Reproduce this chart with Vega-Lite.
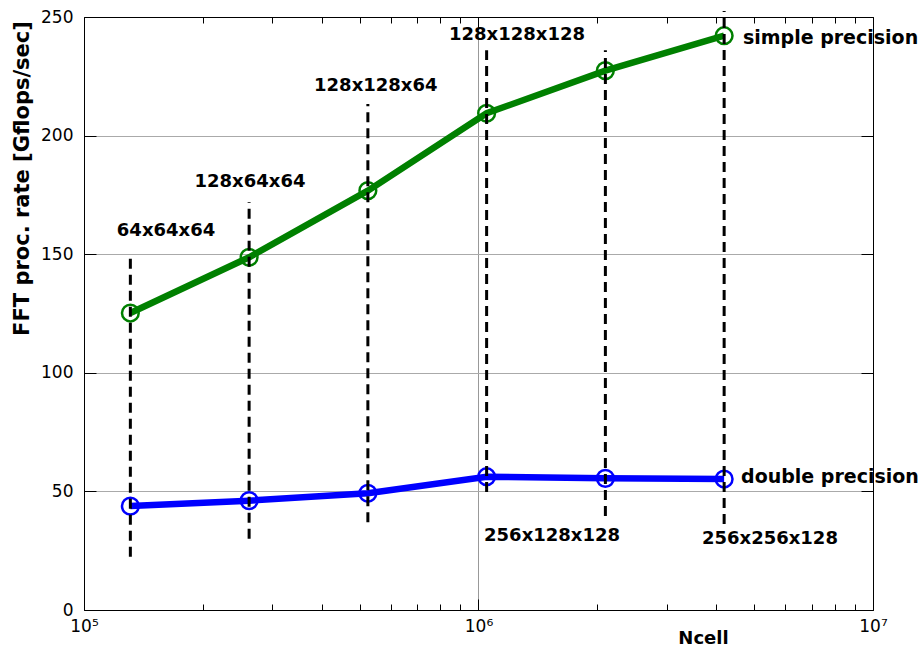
{
  "$schema": "https://vega.github.io/schema/vega-lite/v6.json",
  "width": 789,
  "height": 593,
  "autosize": {"type": "none"},
  "padding": {"left": 84, "top": 17, "right": 47, "bottom": 39},
  "background": "white",
  "config": {
    "view": {"stroke": null},
    "axis": {
      "domainColor": "#000",
      "domainWidth": 1,
      "tickColor": "#000",
      "tickWidth": 1,
      "labelColor": "#000",
      "labelFont": "DejaVu Sans",
      "labelFontSize": 17,
      "titleFont": "DejaVu Sans",
      "titleColor": "#000"
    }
  },
  "datasets": {
    "series": [
      {"series": "simple precision", "Ncell": 131072, "rate": 125.2},
      {"series": "simple precision", "Ncell": 262144, "rate": 148.7},
      {"series": "simple precision", "Ncell": 524288, "rate": 176.8},
      {"series": "simple precision", "Ncell": 1048576, "rate": 209.4},
      {"series": "simple precision", "Ncell": 2097152, "rate": 227.4},
      {"series": "simple precision", "Ncell": 4194304, "rate": 242.1},
      {"series": "double precision", "Ncell": 131072, "rate": 43.8},
      {"series": "double precision", "Ncell": 262144, "rate": 46.1},
      {"series": "double precision", "Ncell": 524288, "rate": 49.2},
      {"series": "double precision", "Ncell": 1048576, "rate": 56.2},
      {"series": "double precision", "Ncell": 2097152, "rate": 55.5},
      {"series": "double precision", "Ncell": 4194304, "rate": 55.2}
    ],
    "dashes": [
      {"Ncell": 131072, "lo": 22.5, "hi": 148.4},
      {"Ncell": 262144, "lo": 30.0, "hi": 172.0},
      {"Ncell": 524288, "lo": 37.0, "hi": 213.3},
      {"Ncell": 1048576, "lo": 49.7, "hi": 236.0},
      {"Ncell": 2097152, "lo": 39.6, "hi": 236.0},
      {"Ncell": 4194304, "lo": 36.3, "hi": 252.5}
    ],
    "sizes": [
      {"label": "64x64x64", "x": 161400, "y": 159.7},
      {"label": "128x64x64", "x": 263500, "y": 180.5},
      {"label": "128x128x64", "x": 549000, "y": 220.8},
      {"label": "128x128x128", "x": 1252000, "y": 242.5},
      {"label": "256x128x128", "x": 1536000, "y": 31.0},
      {"label": "256x256x128", "x": 5480000, "y": 30.0}
    ],
    "names": [
      {"label": "simple precision", "x": 4680000, "y": 241.3},
      {"label": "double precision", "x": 4630000, "y": 55.9}
    ]
  },
  "layer": [
    {
      "data": {"name": "series"},
      "mark": {"type": "line", "strokeWidth": 6.5},
      "encoding": {
        "x": {
          "field": "Ncell",
          "type": "quantitative",
          "scale": {"type": "log", "domain": [100000, 10000000], "nice": false},
          "axis": {
            "orient": "bottom",
            "values": [100000, 200000, 300000, 400000, 500000, 600000, 700000, 800000, 900000, 1000000, 2000000, 3000000, 4000000, 5000000, 6000000, 7000000, 8000000, 9000000, 10000000],
            "labelExpr": "datum.value == 100000 ? '10⁵' : datum.value == 1000000 ? '10⁶' : datum.value == 10000000 ? '10⁷' : ''",
            "labelOverlap": false,
            "labelFlush": false,
            "tickSize": {"condition": {"test": "datum.value == 100000 || datum.value == 1000000 || datum.value == 10000000", "value": -11}, "value": -6},
            "labelPadding": 19,
            "grid": true,
            "gridColor": "#999",
            "gridOpacity": {"condition": {"test": "datum.value == 1000000", "value": 1}, "value": 0},
            "title": "Ncell",
            "titleFontWeight": "bold",
            "titleFontSize": 18,
            "titleX": 619,
            "titleY": 28,
            "titleBaseline": "middle",
            "titleAlign": "center"
          }
        },
        "y": {
          "field": "rate",
          "type": "quantitative",
          "scale": {"domain": [0, 250], "nice": false},
          "axis": {
            "orient": "left",
            "values": [0, 50, 100, 150, 200, 250],
            "tickSize": -12,
            "labelPadding": 23,
            "grid": true,
            "gridColor": "#aaa",
            "title": "FFT proc. rate [Gflops/sec]",
            "titleFontWeight": "bold",
            "titleFontSize": 21,
            "titleX": -62,
            "titleY": 161,
            "titleAngle": -90,
            "titleBaseline": "middle",
            "titleAlign": "center"
          }
        },
        "color": {
          "field": "series",
          "type": "nominal",
          "scale": {"domain": ["simple precision", "double precision"], "range": ["#008000", "#0000ff"]},
          "legend": null
        }
      }
    },
    {
      "data": {"name": "series"},
      "mark": {"type": "point", "shape": "circle", "filled": false, "size": 280, "strokeWidth": 2.5, "opacity": 1},
      "encoding": {
        "x": {"field": "Ncell", "type": "quantitative", "axis": null},
        "y": {"field": "rate", "type": "quantitative", "axis": null},
        "color": {"field": "series", "type": "nominal", "legend": null}
      }
    },
    {
      "data": {"name": "dashes"},
      "mark": {"type": "rule", "color": "#000", "strokeWidth": 3, "strokeDash": [10, 6]},
      "encoding": {
        "x": {"field": "Ncell", "type": "quantitative", "axis": null},
        "y": {"field": "lo", "type": "quantitative", "axis": null},
        "y2": {"field": "hi"}
      }
    },
    {
      "data": {"name": "sizes"},
      "mark": {"type": "text", "font": "DejaVu Sans", "fontWeight": "bold", "fontSize": 18, "color": "#000", "align": "center", "baseline": "middle"},
      "encoding": {
        "x": {"field": "x", "type": "quantitative", "axis": null},
        "y": {"field": "y", "type": "quantitative", "axis": null},
        "text": {"field": "label"}
      }
    },
    {
      "data": {"name": "names"},
      "mark": {"type": "text", "font": "DejaVu Sans", "fontWeight": "bold", "fontSize": 19, "color": "#000", "align": "left", "baseline": "middle"},
      "encoding": {
        "x": {"field": "x", "type": "quantitative", "axis": null},
        "y": {"field": "y", "type": "quantitative", "axis": null},
        "text": {"field": "label"}
      }
    },
    {
      "data": {"name": "series"},
      "mark": {"type": "point", "opacity": 0},
      "encoding": {
        "x": {
          "field": "Ncell",
          "type": "quantitative",
          "axis": {
            "orient": "top",
            "values": [100000, 200000, 300000, 400000, 500000, 600000, 700000, 800000, 900000, 1000000, 2000000, 3000000, 4000000, 5000000, 6000000, 7000000, 8000000, 9000000, 10000000],
            "labels": false,
            "tickSize": {"condition": {"test": "datum.value == 100000 || datum.value == 1000000 || datum.value == 10000000", "value": -11}, "value": -6},
            "grid": false,
            "title": null
          }
        },
        "y": {
          "field": "rate",
          "type": "quantitative",
          "axis": {
            "orient": "right",
            "values": [0, 50, 100, 150, 200, 250],
            "labels": false,
            "tickSize": -12,
            "grid": false,
            "title": null
          }
        }
      }
    }
  ],
  "resolve": {"axis": {"x": "independent", "y": "independent"}}
}
